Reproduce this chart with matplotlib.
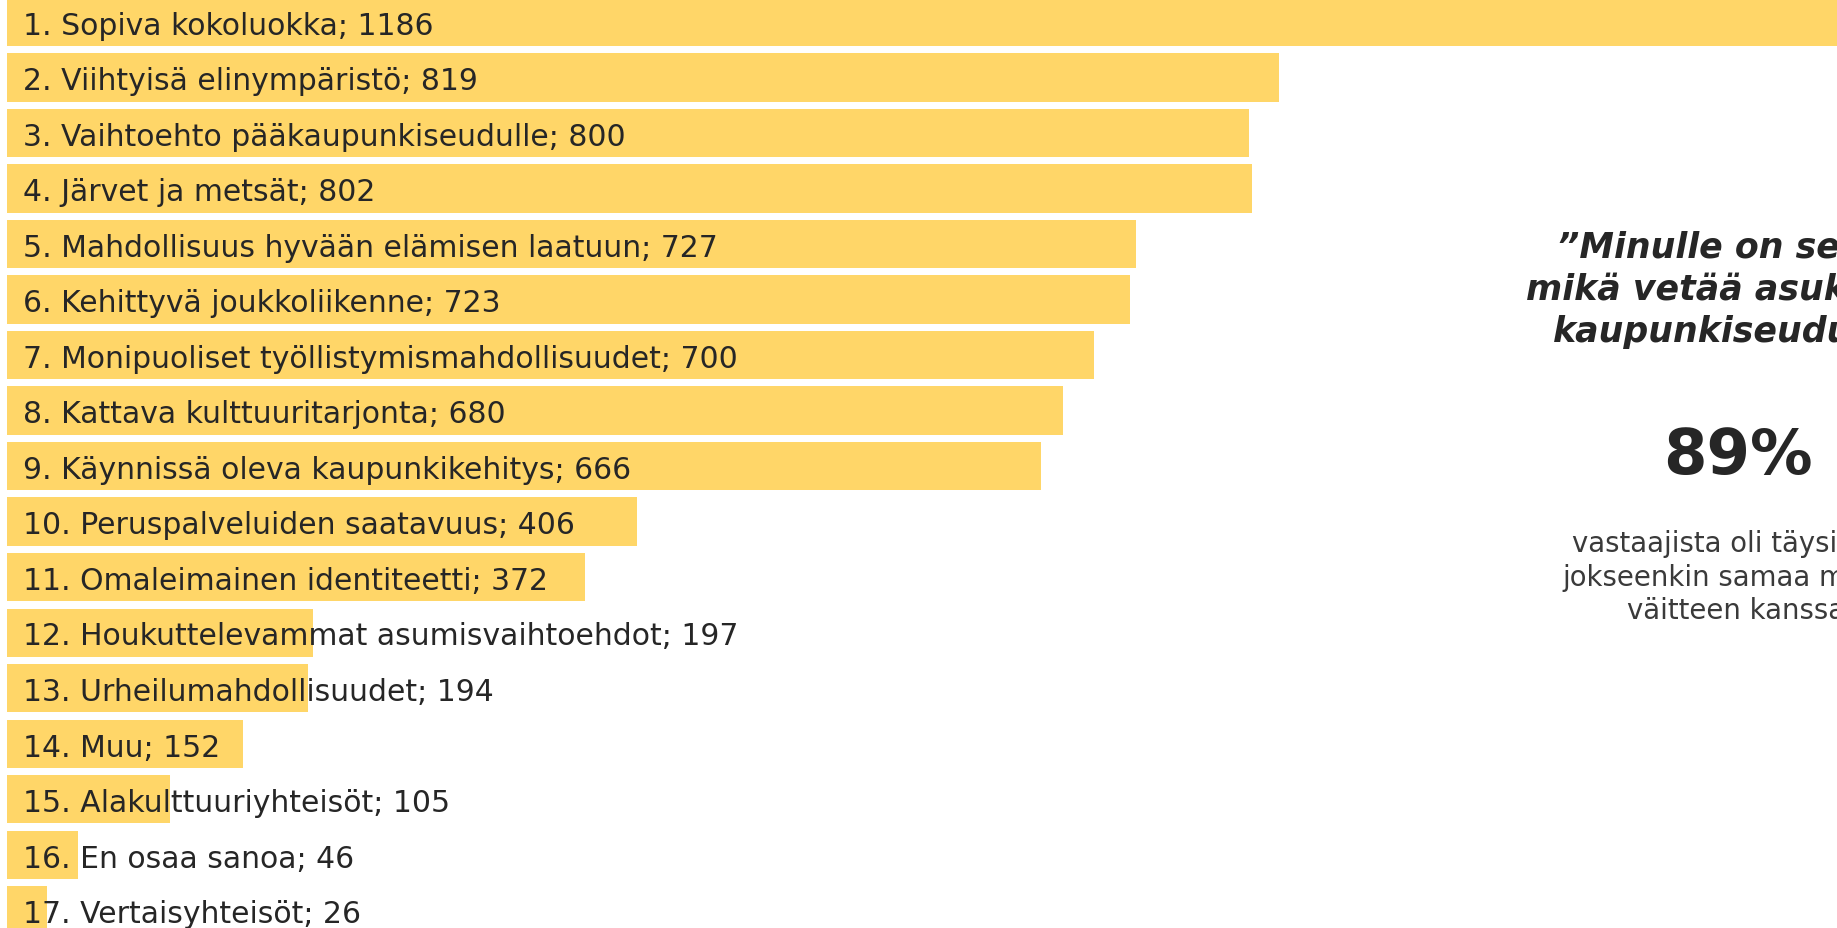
import matplotlib
matplotlib.use("Agg")
import matplotlib.pyplot as plt
from matplotlib.transforms import blended_transform_factory

# data
categories = ["Sopiva kokoluokka", "Viihtyisä elinympäristö", "Vaihtoehto pääkaupunkiseudulle",
              "Järvet ja metsät", "Mahdollisuus hyvään elämisen laatuun", "Kehittyvä joukkoliikenne",
              "Monipuoliset työllistymismahdollisuudet", "Kattava kulttuuritarjonta",
              "Käynnissä oleva kaupunkikehitys", "Peruspalveluiden saatavuus",
              "Omaleimainen identiteetti", "Houkuttelevammat asumisvaihtoehdot",
              "Urheilumahdollisuudet", "Muu", "Alakulttuuriyhteisöt", "En osaa sanoa",
              "Vertaisyhteisöt"]
values = [1186, 819, 800, 802, 727, 723, 700, 680, 666, 406, 372, 197, 194, 152, 105, 46, 26]

quote_lines = ["”Minulle on selvää,", "mikä vetää asukkaita", "kaupunkiseudulle.”"]
share_text = "89%"
note_lines = ["vastaajista oli täysin tai", "jokseenkin samaa mieltä", "väitteen kanssa."]

BAR = "#FFD668"
INK = "#262626"

W, H = 1837, 929
plt.rcParams['font.family'] = ['DejaVu Sans']

fig = plt.figure(figsize=(W / 100, H / 100), dpi=100)
fig.patch.set_facecolor("white")
ax = fig.add_axes([0, 0, 1, 1])

ypos = list(range(len(values)))
ax.barh(ypos, values, height=0.87, color=BAR, edgecolor="none")
ax.set_xlim(-4.5, 1178.4)
ax.set_ylim(16.32, -0.414)
ax.axis("off")

trans = blended_transform_factory(fig.transFigure, ax.transData)
for i, (name, val) in enumerate(zip(categories, values), 1):
    ax.text(23 / W, i - 1 + 0.06, "{}. {}; {}".format(i, name, val), transform=trans,
            ha="left", va="center", fontsize=21.5, color=INK)

# right side call-out (cut off at the right edge like in the reference)
quote_x = [1557, 1526, 1553]
quote_y = [258, 300, 342]
for txt, x, y in zip(quote_lines, quote_x, quote_y):
    fig.text(x / W, 1 - y / H, txt, ha="left", va="baseline", fontsize=25,
             fontweight="bold", fontstyle="italic", color=INK)

fig.text(1738 / W, 1 - 474 / H, share_text, ha="center", va="baseline", fontsize=45,
         fontweight="bold", color=INK)

note_x = [1572, 1562, 1627]
note_y = [552, 586, 619]
for txt, x, y in zip(note_lines, note_x, note_y):
    fig.text(x / W, 1 - y / H, txt, ha="left", va="baseline", fontsize=19.8, color="#3a3a3a")

fig.savefig("out.png", dpi=100)
